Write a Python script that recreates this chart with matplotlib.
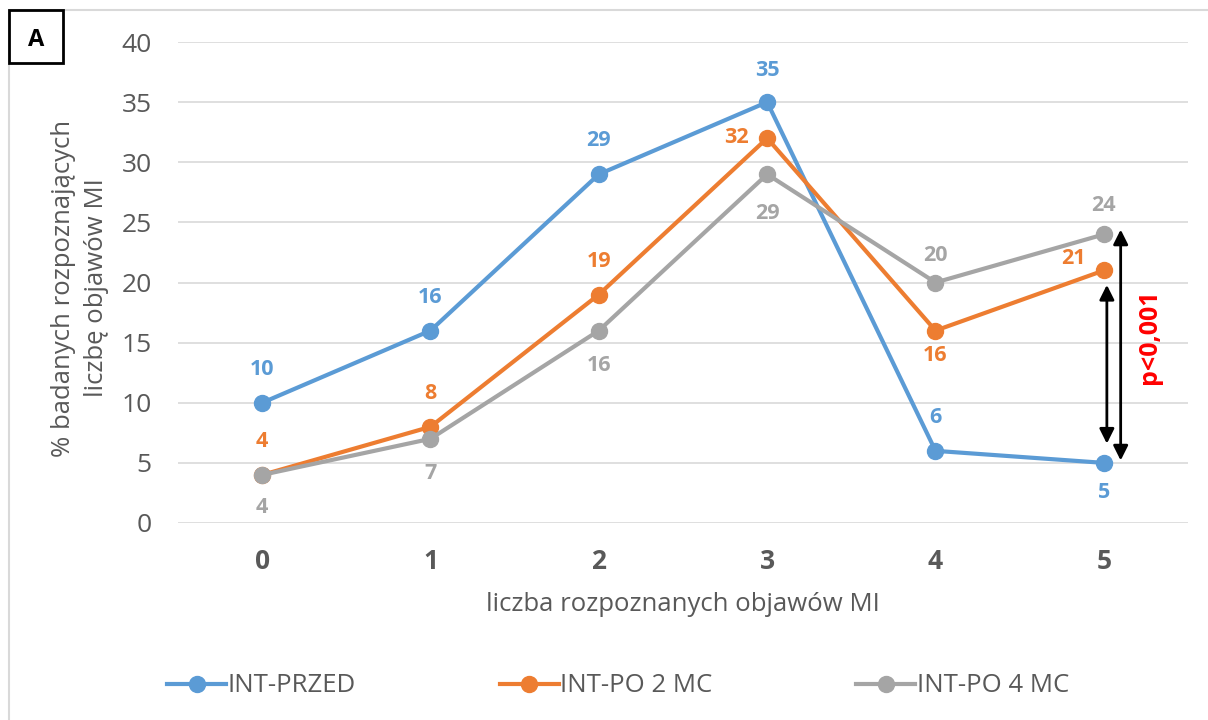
import matplotlib
matplotlib.use("Agg")
import matplotlib.pyplot as plt
from matplotlib.patches import Rectangle
from matplotlib.lines import Line2D

plt.rcParams['font.family'] = ['Open Sans', 'DejaVu Sans']

# data
categories = ['0', '1', '2', '3', '4', '5']
series_names = ['INT-PRZED', 'INT-PO 2 MC', 'INT-PO 4 MC']
przed = [10, 16, 29, 35, 6, 5]
po2 = [4, 8, 19, 32, 16, 21]
po4 = [4, 7, 16, 29, 20, 24]
yticks = [0, 5, 10, 15, 20, 25, 30, 35, 40]

colors = ['#5B9BD5', '#ED7D31', '#A5A5A5']

# label offsets (pixels) per point: above / below / left
off_przed = [(0, 33), (0, 33), (0, 34), (0, 32), (0, 33), (0, -30)]
off_po2 = [(0, 33), (0, 33), (0, 33), (-31, 1), (0, -25), (-30, 12)]
off_po4 = [(0, -33), (0, -35), (0, -35), (0, -39), (0, 27), (0, 29)]

fig = plt.figure(figsize=(12.08, 7.2), dpi=100)
ax = fig.add_axes([178 / 1208, 1 - 523 / 720, 1010 / 1208, 481 / 720])

x = list(range(len(categories)))
all_vals = [przed, po2, po4]
all_offs = [off_przed, off_po2, off_po4]
for vals, offs, c, name in zip(all_vals, all_offs, colors, series_names):
    ax.plot(x, vals, color=c, lw=3, marker='o', markersize=11.5, label=name, zorder=3)
    for xi, v, o in zip(x, vals, offs):
        ax.annotate(str(v), xy=(xi, v), xytext=o, textcoords='offset pixels',
                    ha='center', va='center', color=c, fontsize=15.5, fontweight='bold')

ax.set_xlim(-0.5, 5.5)
ax.set_ylim(0, 40)
ax.set_yticks(yticks)
ax.set_xticks(x)
ax.set_xticklabels(categories, fontsize=19, fontweight='bold', color='#595959')
ax.tick_params(axis='y', labelsize=19, labelcolor='#595959', length=0, pad=19)
ax.tick_params(axis='x', length=0, pad=18)
ax.grid(axis='y', color='#D9D9D9', lw=1.2)
ax.set_axisbelow(True)
for s in ax.spines.values():
    s.set_visible(False)

ax.set_xlabel('liczba rozpoznanych objawów MI', fontsize=18.5, color='#595959', labelpad=12)
fig.text(80 / 1208, 1 - 288 / 720, '% badanych rozpoznających\nliczbę objawów MI', rotation=90,
         ha='center', va='center', fontsize=18.5, color='#595959', linespacing=1.45)

# significance arrows
ax.annotate('', xy=(5.018, 19.8), xytext=(5.018, 6.6),
            arrowprops=dict(arrowstyle='<|-|>', color='black', lw=2, mutation_scale=22, shrinkA=0, shrinkB=0))
ax.annotate('', xy=(5.10, 24.4), xytext=(5.10, 5.2),
            arrowprops=dict(arrowstyle='<|-|>', color='black', lw=2, mutation_scale=22, shrinkA=0, shrinkB=0))
ax.text(5.27, 15.5, 'p<0,001', rotation=90, ha='center', va='center', color='red',
        fontsize=18, fontweight='bold')

handles = [Line2D([], [], color=c, lw=3, marker='o', markersize=11.5) for c in colors]
leg = fig.legend(handles, series_names, loc='center', bbox_to_anchor=(618 / 1208, 1 - 686 / 720), ncol=3,
                 frameon=False, fontsize=18.5, labelcolor='#595959', columnspacing=5.6,
                 handlelength=2.3, handletextpad=0.05)

# outer border and panel letter
fig.patches.append(Rectangle((9 / 1208, -0.05), 1.1, 1 - 10 / 720 + 0.05, transform=fig.transFigure,
                             fill=False, edgecolor='#D9D9D9', lw=1.5))
fig.patches.append(Rectangle((9 / 1208, 1 - 63 / 720), 54 / 1208, 53 / 720, transform=fig.transFigure,
                             fill=True, facecolor='white', edgecolor='black', lw=2))
fig.text(36 / 1208, 1 - 40 / 720, 'A', ha='center', va='center', fontsize=17, fontweight='bold')

fig.savefig('out.png', dpi=100)
